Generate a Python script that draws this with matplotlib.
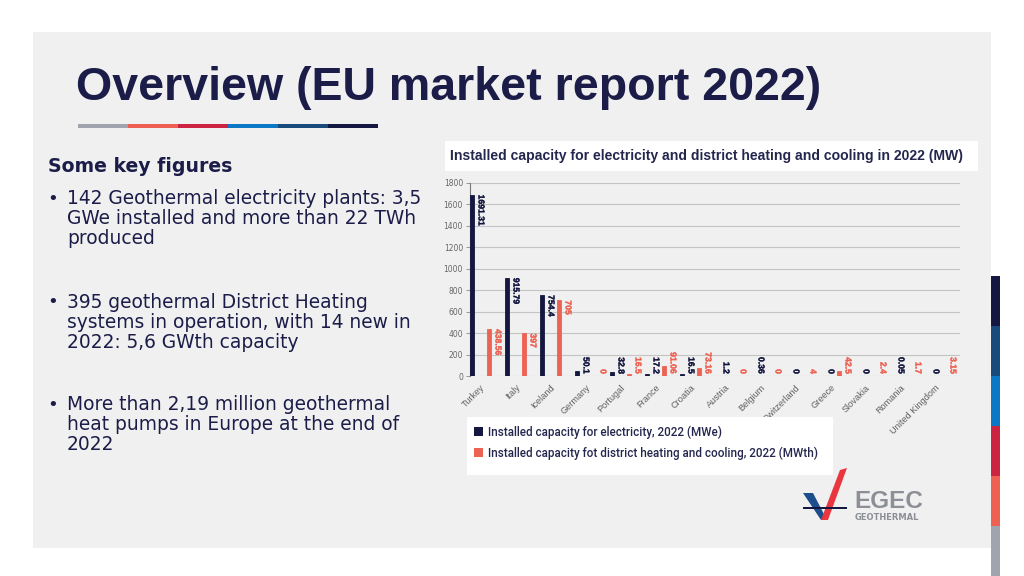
import matplotlib
matplotlib.use("Agg")
import matplotlib.pyplot as plt
import matplotlib.patheffects as pe
from matplotlib.patches import Rectangle, Polygon
import numpy as np

# chart data (EGEC market report 2022)
countries = ["Turkey", "Italy", "Iceland", "Germany", "Portugal", "France", "Croatia",
             "Austria", "Belgium", "Switzerland", "Greece", "Slovakia", "Romania",
             "United Kingdom"]
electricity = [1691.31, 915.79, 754.4, 50.1, 32.8, 17.2, 16.5, 1.2, 0.36, 0, 0, 0, 0.05, 0]
heating = [438.56, 397, 705, 0, 16.5, 91.06, 73.16, 0, 0, 4, 42.5, 2.4, 1.7, 3.15]
y_ticks = [0, 200, 400, 600, 800, 1000, 1200, 1400, 1600, 1800]

chart_title = "Installed capacity for electricity and district heating and cooling in 2022 (MW)"
legend_elec = "Installed capacity for electricity, 2022 (MWe)"
legend_heat = "Installed capacity fot district heating and cooling, 2022 (MWth)"

slide_title = "Overview (EU market report 2022)"
subtitle = "Some key figures"
bullets = [
    ["142 Geothermal electricity plants: 3,5", "GWe installed and more than 22 TWh", "produced"],
    ["395 geothermal District Heating", "systems in operation, with 14 new in", "2022: 5,6 GWth capacity"],
    ["More than 2,19 million geothermal", "heat pumps in Europe at the end of", "2022"],
]

NAVY = "#14173f"
SALMON = "#ec6354"
TEXT = "#1b1c48"
W, H = 1024, 576


def px(x, y):
    return (x / W, 1 - y / H)


fig = plt.figure(figsize=(10.24, 5.76), dpi=100)
fig.patch.set_facecolor("white")

# grey slide panel
fig.add_artist(Rectangle(px(33, 548), 958 / W, 516 / H, transform=fig.transFigure,
                         facecolor="#f0f0f0", edgecolor="none", zorder=0))

# right colour stripe
stripe = [NAVY, "#184a7c", "#0a78c4", "#cc2440", "#ee6152", "#a0a4ae"]
for k, c in enumerate(stripe):
    y0 = 276 + 50 * k
    fig.add_artist(Rectangle(px(991, y0 + 50), 9 / W, 50 / H, transform=fig.transFigure,
                             facecolor=c, edgecolor="none"))

# title + underline
fig.text(*px(76, 88), slide_title, fontsize=33.5, fontweight="bold", color=TEXT,
         family="Liberation Sans", va="center", ha="left")
under = ["#a0a4ae", "#ee6152", "#cc2440", "#0a78c4", "#184a7c", NAVY]
for k, c in enumerate(under):
    fig.add_artist(Rectangle(px(78 + 50 * k, 128), 50 / W, 4 / H, transform=fig.transFigure,
                             facecolor=c, edgecolor="none"))

# left text block
fig.text(*px(48, 167), subtitle, fontsize=13.6, fontweight="bold", color=TEXT,
         family="DejaVu Sans", va="center")
starts = [199, 302, 405]
for y0, lines in zip(starts, bullets):
    fig.text(*px(47, y0), "•", fontsize=13, color=TEXT, family="DejaVu Sans", va="center")
    for j, line in enumerate(lines):
        fig.text(*px(67, y0 + 20 * j), line, fontsize=13.4, color=TEXT,
                 family="DejaVu Sans", va="center")

# chart title box
fig.add_artist(Rectangle(px(445, 171), 533 / W, 30 / H, transform=fig.transFigure,
                         facecolor="white", edgecolor="none"))
fig.text(*px(450, 156), chart_title, fontsize=10.1, fontweight="bold", color="#24264e",
         family="Liberation Sans", va="center")

# bar chart
ax = fig.add_axes([470 / W, 1 - 376 / H, 490 / W, 193 / H])
ax.set_facecolor("none")
x = np.arange(len(countries))
off = 0.243
bw = 0.14
lw_e = [0.6 if v > 0 else 0 for v in electricity]
lw_h = [0.6 if v > 0 else 0 for v in heating]
ax.bar(x - off, electricity, bw, color=NAVY, edgecolor=NAVY, linewidth=lw_e, zorder=3)
ax.bar(x + off, heating, bw, color=SALMON, edgecolor=SALMON, linewidth=lw_h, zorder=3)
ax.set_xlim(-0.30, 13.7)
ax.set_ylim(0, 1800)
ax.set_yticks(y_ticks)
ax.set_yticklabels([str(t) for t in y_ticks], fontsize=5.5, color="#666666")
ax.tick_params(axis="y", length=3, width=0.6, color="#888888", pad=2)
ax.set_xticks(x)
ax.set_xticklabels(countries, rotation=45, ha="right", rotation_mode="anchor",
                   fontsize=6.6, color="#606060", family="Liberation Sans")
ax.tick_params(axis="x", length=0, pad=5)
ax.grid(axis="y", color="#c4c4c4", linewidth=0.8, zorder=0)
for s in ["top", "right", "bottom"]:
    ax.spines[s].set_visible(False)
ax.spines["left"].set_color("#777777")
ax.spines["left"].set_linewidth(0.8)

labels = []
for vals, col, xs in [(electricity, NAVY, x - off), (heating, SALMON, x + off)]:
    for xi, v in zip(xs, vals):
        t = ax.text(xi + bw / 2 + 0.06, v, f"{v:g}", rotation=270, ha="left", va="top",
                    fontsize=6.2, fontweight="bold", color=col, family="Liberation Sans",
                    zorder=4,
                    path_effects=[pe.withStroke(linewidth=0.2, foreground=col)])
        labels.append((t, xi, v))

# keep labels of short bars above the baseline
fig.canvas.draw()
renderer = fig.canvas.get_renderer()
base = ax.transData.transform((0, 0))[1]
units_per_px = 1800 / (ax.transData.transform((0, 1800))[1] - base)
for t, xi, v in labels:
    ext = t.get_window_extent(renderer)
    if ext.y0 < base + 2:
        t.set_y(v + (base + 2 - ext.y0) * units_per_px)

# legend box
fig.add_artist(Rectangle(px(467, 475), 366 / W, 58 / H, transform=fig.transFigure,
                         facecolor="white", edgecolor="none"))
fig.add_artist(Rectangle(px(474, 436), 9 / W, 9 / H, transform=fig.transFigure,
                         facecolor=NAVY, edgecolor="none"))
fig.add_artist(Rectangle(px(474, 457), 9 / W, 9 / H, transform=fig.transFigure,
                         facecolor=SALMON, edgecolor="none"))
fig.text(*px(488, 432), legend_elec, fontsize=8.4, color="#24264e", fontweight="medium",
         family="Roboto", va="center")
fig.text(*px(488, 453), legend_heat, fontsize=8.4, color="#24264e", fontweight="medium",
         family="Roboto", va="center")

# EGEC logo
fig.add_artist(Polygon([px(803, 493), px(813, 493), px(827, 520), px(821, 520)],
                       closed=True, transform=fig.transFigure, facecolor="#1d4e8c",
                       edgecolor="none"))
fig.add_artist(Polygon([px(840, 470), px(847, 468), px(828, 520), px(821, 520)],
                       closed=True, transform=fig.transFigure, facecolor="#e8373f",
                       edgecolor="none"))
fig.add_artist(Rectangle(px(803, 509), 44 / W, 2 / H, transform=fig.transFigure,
                         facecolor=NAVY, edgecolor="none"))
fig.text(*px(854, 502), "EGEC", fontsize=17.5, fontweight="bold", color="#8c8f96",
         family="Liberation Sans", va="center")
fig.text(*px(855, 517), "GEOTHERMAL", fontsize=6, fontweight="bold", color="#8c8f96",
         family="DejaVu Sans", va="center")

fig.savefig("out.png", dpi=100, facecolor="white")
